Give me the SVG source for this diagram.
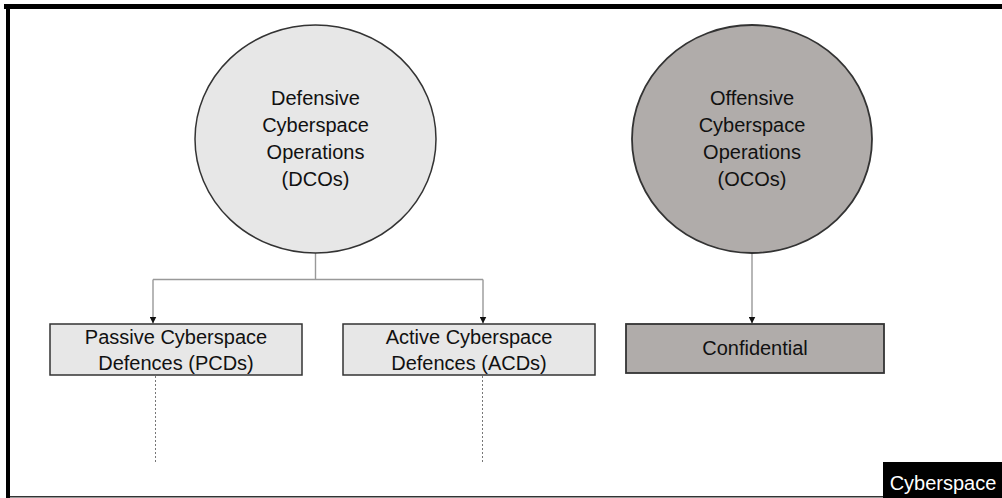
<svg xmlns="http://www.w3.org/2000/svg" width="1002" height="498" viewBox="0 0 1002 498">
  <style>
    .label { font-family: "Liberation Sans", Arial, sans-serif; font-size: 20px; fill: #111; text-anchor: middle; }
    .light { fill: #e7e7e7; stroke: #333; stroke-width: 1.5; }
    .dark { fill: #b0acaa; stroke: #333; stroke-width: 1.8; }
    .conn { fill: none; stroke: #999; stroke-width: 1.4; }
    .dots { fill: none; stroke: #777; stroke-width: 1; stroke-dasharray: 2 2; }
  </style>
  <defs>
    <marker id="arrow" viewBox="0 0 10 10" refX="10" refY="5" markerWidth="7" markerHeight="7" markerUnits="userSpaceOnUse" orient="auto">
      <path d="M0,0 L10,5 L0,10 z" fill="#111"/>
    </marker>
  </defs>

  <rect width="1002" height="498" fill="#fff"/>

  <!-- frame -->
  <g id="frame">
    <rect x="4" y="4" width="998" height="5" fill="#000"/>
    <rect x="6" y="4" width="4" height="494" fill="#000"/>
    <rect x="10" y="496" width="880" height="1.5" fill="#333"/>
  </g>

  <!-- connectors -->
  <g id="connectors">
    <path class="conn" d="M315.5,253 V279.5 M153,279.5 H483 M153,279.5 V323.5" marker-end="url(#arrow)"/>
    <path class="conn" d="M483,279.5 V323.5" marker-end="url(#arrow)"/>
    <path class="conn" d="M752,253 V323.5" marker-end="url(#arrow)"/>
    <path class="dots" d="M155.5,376 V462"/>
    <path class="dots" d="M482.5,376 V462"/>
  </g>

  <g id="dco">
    <ellipse class="light" cx="315.5" cy="139" rx="120.5" ry="114"/>
    <text class="label" x="315.5" y="105">Defensive</text>
    <text class="label" x="315.5" y="132">Cyberspace</text>
    <text class="label" x="315.5" y="159">Operations</text>
    <text class="label" x="315.5" y="186">(DCOs)</text>
  </g>

  <g id="oco">
    <ellipse class="dark" cx="752" cy="139" rx="120" ry="114"/>
    <text class="label" x="752" y="105">Offensive</text>
    <text class="label" x="752" y="132">Cyberspace</text>
    <text class="label" x="752" y="159">Operations</text>
    <text class="label" x="752" y="186">(OCOs)</text>
  </g>

  <g id="pcd">
    <rect class="light" x="50" y="324" width="252" height="51"/>
    <text class="label" x="176" y="344">Passive Cyberspace</text>
    <text class="label" x="176" y="370">Defences (PCDs)</text>
  </g>

  <g id="acd">
    <rect class="light" x="343" y="324" width="252" height="51"/>
    <text class="label" x="469" y="344">Active Cyberspace</text>
    <text class="label" x="469" y="370">Defences (ACDs)</text>
  </g>

  <g id="confidential">
    <rect class="dark" x="626" y="324" width="258" height="49"/>
    <text class="label" x="755" y="355">Confidential</text>
  </g>

  <g id="cyberspace">
    <rect x="883" y="462" width="119" height="36" fill="#000"/>
    <text class="label" x="943" y="490" style="fill:#fff; font-size:20px">Cyberspace</text>
  </g>
</svg>
